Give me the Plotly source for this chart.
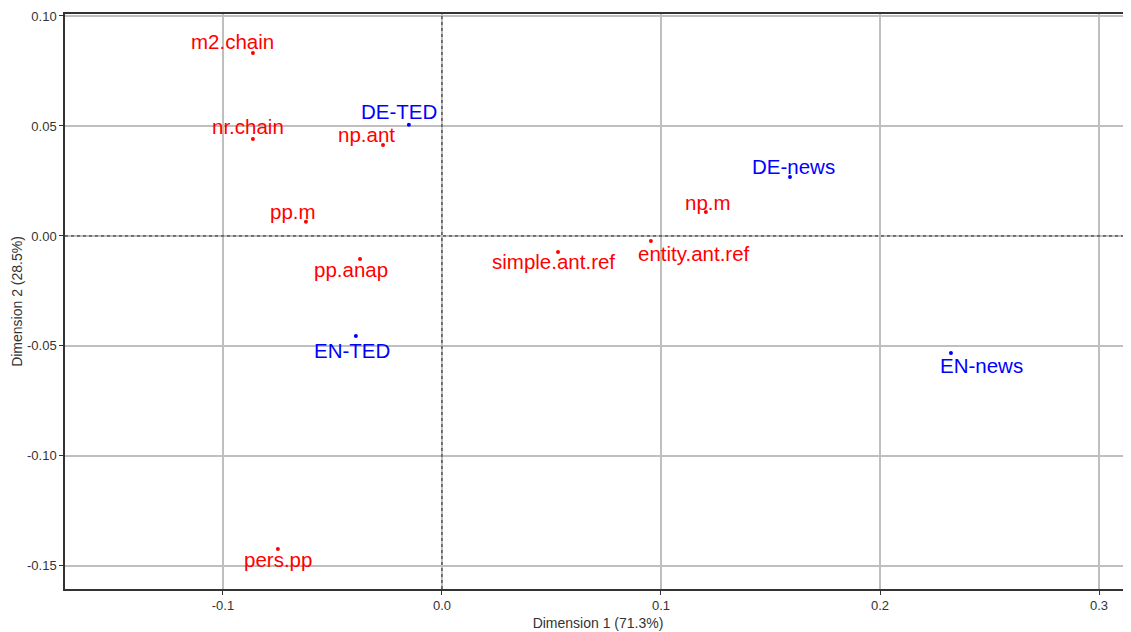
import plotly.graph_objects as go

# Row points (documents) - blue
row_labels = ["DE-TED", "EN-TED", "DE-news", "EN-news"]
row_x = [-0.0151, -0.0393, 0.1589, 0.2324]
row_y = [0.0505, -0.0455, 0.0268, -0.0532]

# Column points (features) - red
col_labels = ["m2.chain", "nr.chain", "np.ant", "pp.m", "pp.anap", "pers.pp",
              "simple.ant.ref", "entity.ant.ref", "np.m"]
col_x = [-0.0863, -0.0863, -0.0269, -0.0621, -0.0374, -0.0749, 0.0530, 0.0954, 0.1205]
col_y = [0.0832, 0.0441, 0.0414, 0.0064, -0.0105, -0.1423, -0.0073, -0.0023, 0.0109]

x_ticks = [-0.1, 0.0, 0.1, 0.2, 0.3]
x_ticktext = ["-0.1", "0.0", "0.1", "0.2", "0.3"]
y_ticks = [-0.15, -0.10, -0.05, 0.00, 0.05, 0.10]
y_ticktext = ["-0.15", "-0.10", "-0.05", "0.00", "0.05", "0.10"]

x_title = "Dimension 1 (71.3%)"
y_title = "Dimension 2 (28.5%)"

# label offsets in pixels (style only): (xshift, yshift)
row_shift = {"DE-TED": (-10, 13), "EN-TED": (-4, -14), "DE-news": (4, 11), "EN-news": (31, -13)}
col_shift = {"m2.chain": (-20, 11), "nr.chain": (-5, 12), "np.ant": (-17, 10), "pp.m": (-13, 10),
             "pp.anap": (-9, -10), "pers.pp": (0, -11), "simple.ant.ref": (-5, -9),
             "entity.ant.ref": (43, -12), "np.m": (2, 9)}

RED = "#FF0000"
BLUE = "#0000FF"
FONT = "Liberation Sans, Arial, sans-serif"

fig = go.Figure()
fig.add_trace(go.Scatter(x=col_x, y=col_y, mode="markers",
                         marker=dict(color=RED, size=4), hoverinfo="text", text=col_labels,
                         showlegend=False))
fig.add_trace(go.Scatter(x=row_x, y=row_y, mode="markers",
                         marker=dict(color=BLUE, size=4), hoverinfo="text", text=row_labels,
                         showlegend=False))

annotations = []
for lab, x, y in zip(col_labels, col_x, col_y):
    dx, dy = col_shift[lab]
    annotations.append(dict(x=x, y=y, text=lab, showarrow=False, xshift=dx, yshift=dy,
                            font=dict(color=RED, size=20.5, family=FONT)))
for lab, x, y in zip(row_labels, row_x, row_y):
    dx, dy = row_shift[lab]
    annotations.append(dict(x=x, y=y, text=lab, showarrow=False, xshift=dx, yshift=dy,
                            font=dict(color=BLUE, size=20.5, family=FONT)))

shapes = [
    dict(type="line", xref="x", yref="paper", x0=0, x1=0, y0=0, y1=1,
         line=dict(color="#222222", width=1, dash="3px,3px"), layer="above"),
    dict(type="line", xref="paper", yref="y", x0=0, x1=1, y0=0, y1=0,
         line=dict(color="#222222", width=1, dash="3px,3px"), layer="above"),
]

# the page body adds an 8px offset; size the figure to compensate
fig.update_layout(
    width=1123, height=624,
    margin=dict(l=57, r=0, t=6, b=43, autoexpand=False),
    paper_bgcolor="white", plot_bgcolor="white",
    font=dict(family=FONT, color="#4d4d4d"),
    annotations=annotations, shapes=shapes,
    xaxis=dict(range=[-0.1721, 0.3146], tickvals=x_ticks, ticktext=x_ticktext,
               showgrid=True, gridcolor="#bfbfbf", gridwidth=1.5, zeroline=False,
               showline=True, linecolor="#333333", linewidth=1.5, mirror=True,
               ticks="outside", ticklen=4, tickcolor="#333333", automargin=False,
               tickfont=dict(size=13, color="#333333"),
               title=dict(text=x_title, font=dict(size=14, color="#333333"), standoff=6)),
    yaxis=dict(range=[-0.1605, 0.1009], tickvals=y_ticks, ticktext=y_ticktext,
               showgrid=True, gridcolor="#bfbfbf", gridwidth=1.5, zeroline=False,
               showline=True, linecolor="#333333", linewidth=1.5,
               ticks="outside", ticklen=4, tickcolor="#333333", automargin=False,
               tickfont=dict(size=13, color="#333333"),
               title=dict(text=y_title, font=dict(size=14, color="#333333"), standoff=1)),
)

fig.write_html("out.html")
